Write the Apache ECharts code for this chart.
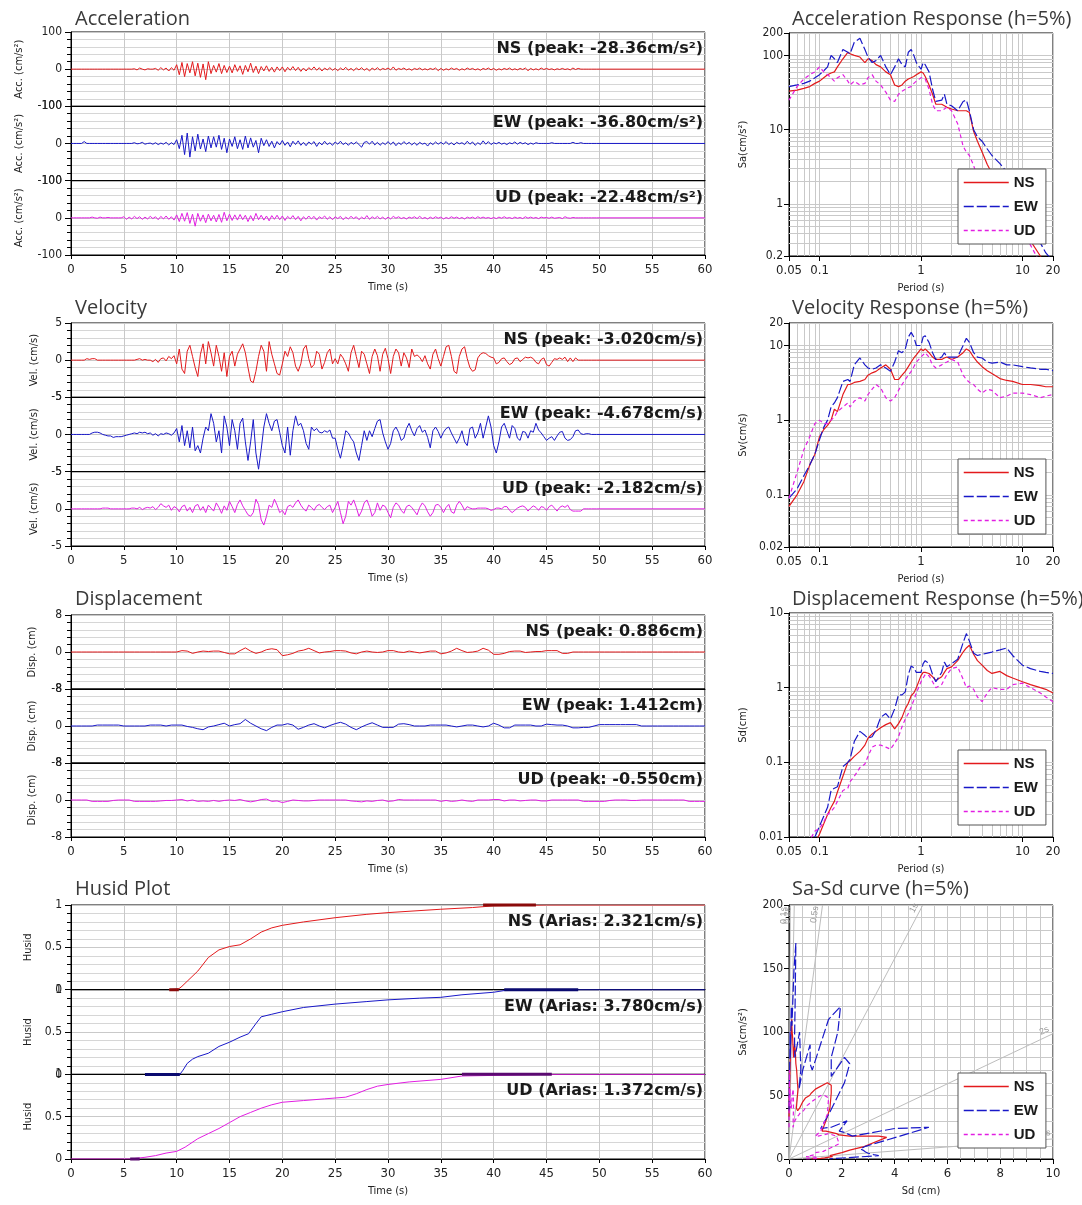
<!DOCTYPE html>
<html>
<head>
<meta charset="utf-8">
<script src="https://cdn.jsdelivr.net/npm/echarts@6/dist/echarts.min.js"></script>
<style>
  html, body { margin: 0; padding: 0; background: #fff; }
  #main { width: 1082px; height: 1205px; }
</style>
</head>
<body>
<div id="main"></div>
<script>
// ---- time histories (sample steps in seconds) ----
const ACC_DT = 0.25;
const VEL_DT = 0.25;
const DISP_DT = 0.5;

const accNS = [
  0,0,0,0,0,0,0,0,0,0,0,0,0,0,0,0,0,0,0,0,
  0,0,0,0,1,-2,3,0,-2,1,0,0,2,-3,4,-2,3,-5,4,-3,
  12,-15,18,-20,15,-10,20,-18,16,-22,14,-28.36,20,-12,10,-8,15,-12,10,-9,
  8,-10,12,-6,9,-14,10,-7,16,-9,8,-12,7,-5,9,-6,5,-8,6,-4,
  6,-7,5,-3,7,-4,5,-6,3,-5,4,-2,6,-3,4,-5,3,-2,4,-3,
  2,-4,3,-2,5,-3,2,-4,3,-2,4,-3,2,-5,3,-2,4,-3,2,-1,
  3,-2,6,-3,2,-1,3,-2,1,-3,2,-1,3,-2,1,-2,2,-1,3,-4,
  2,-3,1,-2,3,-1,2,-3,1,-2,3,-1,2,-2,1,-3,2,-1,3,-2,
  2,-3,1,-2,2,-1,3,-2,1,-2,2,-1,3,-4,2,-2,1,-2,3,-1,
  2,-1,1,-2,1,-1,2,-1,1,-2,3,-1,2,0,0,0,0,0,0,0
];
const accEW = [
  0,0,0,0,0,5,0,0,0,0,0,0,0,0,0,0,0,0,0,0,
  0,0,0,0,2,-1,0,3,-2,0,1,-2,2,-3,1,-2,3,-4,2,-3,
  10,-14,22,-30,28,-36.8,18,-20,25,-15,12,-22,20,-12,18,-10,22,-16,14,-25,
  12,-8,18,-14,10,-16,20,-12,15,-10,8,-25,14,-6,10,-8,6,-12,5,-4,
  8,-5,4,-9,6,-3,7,-5,3,-6,4,-2,5,-8,3,-4,6,-3,2,-5,
  4,-2,6,-3,2,-5,3,-2,4,-3,-10,3,5,-2,6,-4,3,-5,2,-3,
  5,-3,4,-6,2,-3,5,-2,3,-4,2,-5,3,-2,1,-7,2,-3,4,-2,
  3,-2,5,-3,2,-4,3,-1,2,-3,6,-2,4,-5,2,-3,7,-2,5,-3,
  2,-1,3,-2,1,-3,2,-1,4,-2,3,-1,2,-3,1,-2,2,0,0,0,
  0,0,2,0,0,0,0,0,0,0,3,0,0,2,0,0,0,0,0,0
];
const accUD = [
  0,0,0,0,0,0,0,0,2,0,-1,2,0,0,1,0,0,0,0,0,
  3,-4,2,-3,4,-2,3,-4,2,-3,4,-2,3,-5,4,-3,5,-4,3,-6,
  8,-10,12,-9,14,-15,10,-22.48,12,-9,8,-13,10,-8,7,-11,9,-12,15,-8,
  10,-7,8,-6,9,-5,7,-10,6,-8,12,-5,7,-6,5,-8,6,-4,7,-5,
  5,-7,4,-3,6,-5,4,-8,3,-4,5,-3,4,-6,3,-2,5,-4,3,-5,
  3,-2,4,-5,2,-3,4,-2,3,-5,2,-3,6,-4,3,-2,4,-3,2,-4,
  2,-3,4,-1,3,-2,1,-3,2,-1,3,-2,4,-2,1,-3,2,-2,3,-1,
  2,-3,1,-2,3,-1,2,-2,1,-3,2,-1,2,-2,3,-1,2,-1,1,-2,
  1,-2,2,-1,3,-1,1,-2,2,-1,1,-2,3,-1,2,-1,1,-2,2,0,
  1,-1,2,-1,0,1,-2,3,0,-1,1,0,0,0,0,0,0,0,0,0
];

const velNS = [
  0,0,0,0,0,0,0.2,0.1,0.2,0.2,0,0,0,0,0,0,0,0,0,0,
  0,0,0,0,0,0.1,0.2,0,0.1,0,0,-0.2,0.1,-0.3,0.2,0.3,-0.1,0.5,0.2,0.6,
  -0.5,1.5,-1.2,-1.8,1.2,2.0,0.5,-1.0,-2.2,0.8,2.2,-0.5,2.5,1.0,-0.8,2.0,0.5,-1.5,1.0,-2.2,
  0.5,1.2,-0.8,0.8,1.5,2.2,1.0,-1.0,-2.8,-3.02,-1.5,0.5,2.0,1.2,-1.5,2.5,0.8,-0.5,-1.8,-2.0,
  -0.5,1.2,0.5,1.8,1.0,-0.8,-1.5,-0.5,1.5,2.0,0.2,-1.0,-0.6,1.2,0.8,-1.2,-0.3,1.0,1.5,-0.5,
  0.2,-0.5,0.8,0.3,-0.5,-1.5,1.0,2.0,0.5,-1.0,1.2,0.8,-0.5,-1.8,0.5,1.5,0.6,-1.5,0.8,1.6,
  0.2,-1.8,0.5,1.5,1.0,-0.8,1.0,0.3,-1.0,1.5,0.5,0.7,0.4,-0.2,0.6,-0.5,-1.2,0.8,1.5,0.2,
  -0.8,0.5,1.8,2.0,0.5,-1.5,-1.8,0.5,1.5,1.8,0.2,-1.0,-1.5,-1.3,0.3,0.8,1.0,0.9,0.6,0.4,
  0.3,-0.5,-0.3,0.2,0.3,-0.2,-0.6,-0.4,0.2,0.3,-0.2,0.1,0.4,0.3,0.4,0.2,-0.3,-0.5,0.1,0.3,
  -0.6,-0.8,-0.3,0.2,0.1,0.3,0.1,0.4,-0.2,0.3,-0.2,0.3,0,0,0,0,0,0,0,0
];
const velEW = [
  0,0,0,0,0,0,0,0,0.2,0.3,0.3,0.2,0,-0.1,-0.2,-0.2,-0.4,-0.3,-0.3,-0.3,
  -0.2,-0.1,0,0.1,0.2,0.1,0.3,0.2,0.3,0.1,0.2,-0.1,0.1,-0.2,0.1,0,0.2,0.1,-0.1,0.2,
  0.8,-1.0,1.2,-1.5,0.5,-1.8,1.0,-2.2,-1.5,-2.5,-0.5,1.0,0.5,2.8,1.5,-1.0,0.5,-2.5,2.5,1.0,
  -1.5,2.0,0.5,-2.0,1.5,2.2,-1.0,-3.5,-1.0,2.0,-2.5,-4.678,-2.0,1.0,2.8,1.5,0.5,1.8,2.0,0.3,
  -1.5,-2.5,1.0,-2.8,0.5,2.5,1.2,1.5,0.5,-1.2,-2.0,1.0,0.5,0.8,0.3,0.2,0.5,0.3,0.6,-0.5,
  -0.5,-2.0,-3.2,-1.5,0.5,0.2,-0.5,-1.0,-2.5,-3.5,-1.5,0.5,-0.8,0.5,-0.3,0.8,1.8,2.0,0.2,-1.0,
  -2.0,-1.2,0.5,1.0,0.3,-0.8,-0.5,0.8,1.5,0.5,-0.2,0.8,1.2,0.3,0.6,-0.4,-1.8,0.5,1.0,0.4,
  -0.5,0.3,0.8,1.0,0.2,-0.5,-1.2,-0.5,0.5,-1.0,-1.5,0.8,1.0,-0.5,0.2,1.5,-0.5,1.0,2.5,1.0,
  -1.5,-2.5,-1.0,1.0,1.5,0.5,-0.5,1.2,0.8,-0.5,-0.8,0.4,0.3,-0.5,0.5,0.3,1.5,0.6,0.2,-0.3,
  -0.8,-0.5,-0.3,-0.8,-0.2,0.3,0.4,-0.5,-0.8,-0.7,-0.3,0.5,0.6,0.1,0,0.1,0.1,0,0,0
];
const velUD = [
  0,0,0,0,0,0,0,0,0,0,0,0,0.1,0.1,0.1,0,0,0,0,0,
  0,0,0,0.1,0.1,0,0.2,-0.1,0.1,0.2,0.1,0.3,-0.1,0.2,0.7,0.4,0.2,0.5,-0.2,0.3,
  0.1,-0.4,0.3,0.5,-0.3,0.2,-0.5,0.4,0.6,-0.2,0.3,-0.5,0.5,0.1,-0.3,0.8,0.2,-0.6,0.4,-0.2,
  1.0,0.3,-0.5,0.6,1.2,0.4,-0.2,-0.8,-1.0,-0.5,1.3,0.6,-1.5,-2.182,-1.0,0.5,0.2,1.3,0.5,-0.5,
  -0.2,-0.8,0.3,0.5,0.2,0.8,1.2,0.5,0,-0.3,0.5,0.2,-0.2,0.4,0.6,0.2,-0.1,0.3,0.5,-0.5,
  0.2,1.0,-0.5,-2.0,-1.0,1.0,0.5,1.2,0.2,-1.0,-0.3,0.8,1.2,0.3,-1.0,-0.5,0.8,-0.2,0.5,0.3,
  -0.5,-1.2,0.2,0.8,0.5,-0.2,-0.6,0.3,0.5,0.2,-0.3,-0.8,0.2,0.8,0.4,-0.4,-1.0,-0.5,0.5,0.6,
  0.2,-0.5,0.2,0.6,-0.4,-0.6,0.5,1.0,0.5,-0.2,0.3,0.1,0,0,0.1,0.1,0.1,0.1,0,-0.2,
  -0.1,0.1,0.1,0,0.3,0.3,-0.2,-0.5,-0.2,0.1,0.3,0.4,0.2,-0.3,0.1,0.4,0.2,-0.2,0.3,0.2,
  -0.2,0.3,0.5,0.1,-0.3,0.2,0.4,0.2,0.5,-0.1,-0.3,-0.3,-0.3,-0.3,0,0,0,0,0,0
];

const dispNS = [
  0,0,0,0,0,0,0,0,0,0,
  0,0,0,0,0,0,0,0,0,0,
  0,0.3,0.2,-0.3,0,0.2,0.1,0.2,0.2,-0.1,
  -0.4,-0.4,0.3,0.886,0.2,-0.3,0,0.5,0.7,0.5,
  -0.8,-0.6,-0.3,0.2,0.4,0.8,0.3,-0.2,0,0.1,
  0.3,0.3,0.2,-0.2,-0.4,0,0.2,0,-0.1,0,
  0.3,0.3,0,-0.1,0.2,0,-0.2,0,0.2,0.2,
  -0.4,-0.2,0.2,0.8,0.3,-0.1,0,0.2,0.8,0.4,
  -0.5,-0.5,-0.3,0.1,0.2,0.2,-0.1,0,0.1,0.1,
  0.3,0.3,0.3,-0.3,-0.3,0,0,0,0,0,
  0,0,0,0,0,0,0,0,0,0,
  0,0,0,0,0,0,0,0,0,0,0
];
const dispEW = [
  0,0,0,0,0,0.2,0.2,0.2,0.2,0.2,
  0,0,0,0,0,0.2,0.2,0.2,0,0.2,
  0.2,0.2,-0.1,-0.3,-0.6,-0.8,-0.2,0,0.3,0.6,
  0,0.3,0.5,1.412,0.6,0,-0.6,-1.0,-0.3,0.2,
  0.2,0.5,0.2,-0.7,-0.3,0.2,0.5,0,-0.4,0.1,
  0.5,0.8,0.4,-0.3,-0.8,-0.2,0.3,0.7,0.2,-0.3,
  -0.3,-0.3,0.4,0.5,0.3,0,0,0,0.2,0.2,
  0.2,0.2,0,-0.2,0,0.2,0.2,0,-0.2,0,
  0.6,0.2,-0.4,-0.4,0.2,0.2,0.2,0.2,0,0,
  0.4,0.3,0.2,0.2,0,-0.4,-0.4,-0.3,-0.3,0,
  0.3,0.3,0.3,0.3,0.3,0.3,0.3,0.3,0,0,
  0,0,0,0,0,0,0,0,0,0,0
];
const dispUD = [
  0,0,0,0,-0.3,-0.3,-0.3,-0.3,-0.1,0,
  0,0,-0.3,-0.3,-0.3,-0.3,-0.3,-0.2,-0.1,-0.1,
  0,0.1,-0.2,0,-0.3,-0.2,-0.3,-0.1,-0.3,-0.1,
  0,-0.1,0.1,-0.2,-0.4,-0.2,0.1,0.2,-0.3,-0.2,
  -0.55,-0.3,0,-0.1,-0.2,-0.2,-0.1,0,0,0,
  0,0,0,-0.2,-0.3,-0.4,-0.2,-0.3,-0.1,0,
  -0.3,-0.2,0.1,0,0,0,0,0,0,0,
  -0.3,-0.1,-0.3,-0.2,0,-0.2,-0.3,0,0,0,
  0.1,0.1,-0.2,0,0,-0.2,-0.1,0,0,-0.2,
  -0.2,0,0,0,0,0,0,-0.3,-0.3,-0.3,
  -0.3,-0.3,-0.1,0,0,0,-0.1,-0.1,0,0,
  0,0,0,0,0,0,0,-0.3,-0.3,-0.3,-0.3
];

// Husid (normalised Arias intensity) as [time, value]
const husidNS = [[9.3,0],[10.2,0.01],[10.5,0.04],[11,0.1],[12,0.22],[13,0.38],[14,0.47],[15,0.51],[16,0.53],[17,0.6],[18,0.68],[19,0.73],[20,0.76],[22,0.8],[25,0.85],[28,0.89],[30,0.91],[35,0.95],[38,0.97],[40,0.99],[45,1],[60,1]];
const husidEW = [[7,0],[10.3,0],[10.6,0.05],[11,0.13],[11.5,0.18],[12,0.21],[13,0.25],[14,0.33],[15,0.38],[16,0.44],[16.8,0.48],[17.5,0.6],[18,0.68],[19,0.71],[20,0.74],[22,0.79],[25,0.83],[28,0.86],[30,0.88],[33,0.9],[35,0.91],[37,0.94],[40,0.97],[41,0.99],[48,1],[60,1]];
const husidUD = [[0,0],[5.6,0],[7,0.02],[8,0.04],[9,0.07],[10,0.09],[10.8,0.14],[12,0.24],[13,0.3],[14,0.36],[15,0.43],[16,0.5],[17,0.55],[18,0.6],[19,0.64],[20,0.67],[22,0.69],[24,0.71],[26,0.73],[27,0.77],[28,0.82],[29,0.86],[30,0.88],[32,0.91],[35,0.94],[37,0.98],[45.5,1],[60,1]];
const husidStart = [[9.3,10.2],[7,10.3],[5.6,6.5]];
const husidEnd = [[39,44],[41,48],[37,45.5]];

// ---- response spectra (h=5%) ----
const periods = [0.05,0.06,0.07,0.08,0.09,0.1,0.11,0.12,0.13,0.14,0.15,0.17,0.19,0.2,0.22,0.25,0.28,0.3,0.33,0.36,
  0.4,0.45,0.5,0.55,0.6,0.65,0.7,0.75,0.8,0.85,0.9,1.0,1.05,1.1,1.2,1.3,1.4,1.6,1.7,1.8,
  2.0,2.3,2.6,2.8,3.0,3.3,3.6,4,4.5,5,6,7,8,10,12,15,17,20];

const saNS = [33,34,36,38,42, 45,50,55,58,60, 70,90,110,105,100, 95,80,90,85,75, 70,60,55,40,38,
  40,45,48,50,52, 55,60,58,52,40, 30,22,22,21,20, 19,18,18,18,17, 9.5,7,5,3.4,2.6, 1.9,1.3,0.9,0.5,0.32, 0.2,0.15,0.1];
const saEW = [38,40,42,45,50, 55,62,70,100,90, 80,120,110,105,150, 170,120,95,80,85, 100,70,55,70,90,
  75,70,110,120,100, 80,65,80,75,60, 35,24,25,30,22, 21,18,24,25,18, 10,8,7,5.5,4.5, 3.5,2.7,1.7,0.8,0.5, 0.3,0.22,0.17];
const saUD = [25,38,48,55,60, 70,60,55,50,45, 50,55,45,40,45, 40,42,50,55,45, 40,32,25,24,30,
  33,35,37,38,42, 45,50,50,48,35, 22,18,18,19,20, 18,12,6,5,4.5, 3.3,2.3,1.8,1.6,1.5, 1.1,0.8,0.6,0.45,0.28, 0.16,0.1,0.065];

const svNS = [0.07,0.1,0.15,0.25,0.35, 0.6,0.75,0.85,1.0,1.4, 1.3,2.2,3.0,3.0,3.2, 3.3,3.5,4.0,4.3,4.5, 5.0,5.5,4.8,3.5,3.5,
  4.0,4.5,5.2,6.0,6.8, 7.5,9.0,8.5,9.0,8.0, 7.0,6.5,6.5,6.8,7.0, 6.5,7.0,8.0,9.0,8.5, 7.0,6.0,5.2,4.6,4.2, 3.6,3.4,3.3,3.0,3.0, 2.9,2.8,2.8];
const svEW = [0.09,0.12,0.18,0.25,0.35, 0.55,0.8,1.0,1.5,1.7, 2.0,3.3,3.5,3.3,5.5, 6.8,5.5,5.0,4.8,5.0, 5.5,5.0,4.5,6.0,8.5,
  8.0,9.0,13,15,13, 10,10,13,13.5,11, 8.0,6.5,7.0,8.0,7.0, 7.0,7.0,10,12.5,11, 8.0,7.0,6.8,6.0,5.8, 6.0,5.5,5.5,5.2,5.0, 4.8,4.8,4.6];
const svUD = [0.09,0.2,0.4,0.6,0.9, 1.0,0.9,0.9,1.0,1.1, 1.3,1.5,1.7,1.5,1.8, 2.0,1.8,2.2,2.6,3.0, 2.7,2.0,1.8,2.0,2.5,
  3.0,3.5,4.0,4.5,5.2, 6.0,7.0,7.5,8.0,7.0, 5.5,5.0,5.5,5.8,6.0, 6.5,6.0,4.0,3.5,3.2, 3.0,2.6,2.3,2.6,2.5, 2.0,2.1,2.3,2.3,2.2, 2.0,2.1,2.2];

const sdNS = [0.002,0.003,0.0045,0.006,0.008, 0.011,0.015,0.02,0.025,0.03, 0.04,0.065,0.1,0.105,0.12, 0.14,0.17,0.21,0.24,0.26,
  0.29,0.32,0.34,0.28,0.33, 0.4,0.52,0.62,0.78,0.85, 1.0,1.45,1.6,1.6,1.55, 1.4,1.25,1.4,1.6,1.8, 1.9,2.3,3.0,3.4,3.7,
  2.8,2.3,2.0,1.7,1.55, 1.65,1.45,1.35,1.2,1.1, 1.0,0.95,0.85];
const sdEW = [0.0025,0.0035,0.005,0.007,0.01, 0.014,0.019,0.025,0.042,0.045, 0.047,0.088,0.1,0.11,0.19, 0.26,0.23,0.21,0.22,0.27,
  0.4,0.45,0.38,0.52,0.8, 0.8,0.88,1.5,1.95,1.85, 1.6,1.6,2.1,2.3,2.1, 1.5,1.2,1.6,2.2,1.9, 2.1,2.4,4.0,5.3,4.2,
  2.9,2.7,2.8,2.9,3.0, 3.2,3.4,2.7,2.0,1.8, 1.65,1.6,1.55];
const sdUD = [0.0016,0.0035,0.006,0.009,0.012, 0.013,0.016,0.02,0.022,0.025, 0.03,0.042,0.045,0.055,0.065, 0.085,0.095,0.12,0.16,0.17,
  0.17,0.16,0.15,0.18,0.22, 0.3,0.38,0.45,0.55,0.68, 0.85,1.2,1.35,1.5,1.45, 1.2,1.0,1.1,1.3,1.5, 1.8,1.9,1.3,1.0,1.05,
  0.95,0.75,0.65,0.85,1.0, 0.95,0.95,1.1,1.15,1.0, 0.85,0.75,0.65];

// constant-period guide lines on the Sa-Sd plot, end points as [Sd, Sa]
const periodLineNames = ['0.1s','0.2s','0.5s','1s','2s','5s'];
const periodLineEnds = [[0.05,200],[0.2,200],[1.27,200],[5.07,200],[10,98.7],[10,15.8]];

const peakLabels = {
  acc: ['NS (peak: -28.36cm/s²)', 'EW (peak: -36.80cm/s²)', 'UD (peak: -22.48cm/s²)'],
  vel: ['NS (peak: -3.020cm/s)', 'EW (peak: -4.678cm/s)', 'UD (peak: -2.182cm/s)'],
  disp: ['NS (peak: 0.886cm)', 'EW (peak: 1.412cm)', 'UD (peak: -0.550cm)'],
  husid: ['NS (Arias: 2.321cm/s)', 'EW (Arias: 3.780cm/s)', 'UD (Arias: 1.372cm/s)']
};

// ---- styling ----
const COLORS = ['#e31a1c', '#1818c8', '#e21ee2'];
const DARK = ['#8a0a0a', '#0a0a70', '#5a0a70'];
const COMP = ['NS', 'EW', 'UD'];
const DASH = ['solid', [10, 3], [4, 3]];
const LABEL_FONT = "'Liberation Sans Narrow','DejaVu Sans Condensed',sans-serif";
const NAME_FONT = "'DejaVu Sans Condensed','DejaVu Sans',sans-serif";
const GRIDLINE = '#c9c9c9';

const grids = [], xAxes = [], yAxes = [], series = [], legends = [], graphics = [];

function toXY(vals, dt) {
  const pts = vals.map((v, i) => [+(i * dt).toFixed(2), v]);
  if (pts[pts.length - 1][0] < 60) pts.push([60, 0]);
  return pts;
}

function addTitle(text, x, y) {
  graphics.push({
    type: 'text', x, y, z: 100,
    style: { text, font: "20px 'Open Sans', 'Noto Sans', sans-serif", fill: '#3a3a3a', verticalAlign: 'middle' }
  });
}

function addTimePanel(p) {
  p.tops.forEach((top, k) => {
    const g = grids.length;
    const last = k === 2;
    grids.push({ left: 71, width: 634, top, height: p.h, show: true, borderColor: '#000', borderWidth: 1 });
    xAxes.push({
      gridIndex: g, type: 'value', min: 0, max: 60, interval: 5,
      axisLine: { show: true, onZero: false, lineStyle: { color: '#000' } },
      axisTick: { show: last, length: 4, lineStyle: { color: '#000' } },
      axisLabel: { show: last, fontSize: 13, color: '#222', margin: 8, fontFamily: LABEL_FONT },
      splitLine: { show: true, lineStyle: { color: GRIDLINE } },
      name: last ? 'Time (s)' : '', nameLocation: 'middle', nameGap: 27,
      nameTextStyle: { fontSize: 11, color: '#222', fontFamily: NAME_FONT }
    });
    yAxes.push({
      gridIndex: g, type: 'value', min: p.min, max: p.max, interval: p.interval,
      name: p.name, nameLocation: 'middle', nameGap: p.nameGap,
      nameTextStyle: { fontSize: 11, color: '#222', fontFamily: NAME_FONT },
      axisLine: { show: true, lineStyle: { color: '#000' } },
      axisTick: { show: true, length: 6, lineStyle: { color: '#000' } },
      minorTick: { show: true, splitNumber: 5, length: 4, lineStyle: { color: '#000' } },
      axisLabel: { showMinLabel: true, showMaxLabel: true, fontSize: 12, color: '#222', margin: 9, fontFamily: LABEL_FONT },
      splitLine: { show: true, lineStyle: { color: GRIDLINE } },
      minorSplitLine: { show: true, lineStyle: { color: '#d6d6d6' } }
    });
    series.push({
      type: 'line', name: p.key + COMP[k], xAxisIndex: g, yAxisIndex: g,
      data: p.data[k], symbol: 'none', animation: false, z: 3,
      lineStyle: { width: 1, color: COLORS[k] }
    });
    graphics.push({
      type: 'text', x: 703, y: top + 17, z: 100,
      style: { text: p.labels[k], align: 'right', verticalAlign: 'middle',
        font: "bold 16px 'DejaVu Sans', sans-serif", fill: '#1a1a1a' }
    });
  });
}

function logMinors(lo, hi) {
  const out = [];
  for (let e = Math.floor(Math.log10(lo)); e <= Math.ceil(Math.log10(hi)); e++) {
    for (let m = 2; m <= 9; m++) {
      const v = +(m * Math.pow(10, e)).toPrecision(3);
      if (v > lo && v < hi) out.push(v);
    }
  }
  return out;
}

function rightAxes(g, p) {
  const logAxis = p.log;
  xAxes.push({
    gridIndex: g, type: logAxis ? 'log' : 'value', logBase: 10, min: p.xMin, max: p.xMax,
    interval: logAxis ? undefined : p.xInterval,
    axisLine: { show: true, onZero: false, lineStyle: { color: '#000' } },
    axisTick: { show: true, length: 5, lineStyle: { color: '#000' } },
    minorTick: { show: !logAxis, splitNumber: 4, length: 3, lineStyle: { color: '#000' } },
    axisLabel: { fontSize: 13, color: '#222', margin: 8, fontFamily: LABEL_FONT, showMinLabel: true, showMaxLabel: true,
      formatter: v => String(+(+v).toPrecision(3)) },
    splitLine: { show: true, lineStyle: { color: GRIDLINE } },
    minorSplitLine: { show: !logAxis, lineStyle: { color: GRIDLINE } },
    name: p.xName, nameLocation: 'middle', nameGap: 27,
    nameTextStyle: { fontSize: 11, color: '#222', fontFamily: NAME_FONT }
  });
  yAxes.push({
    gridIndex: g, type: logAxis ? 'log' : 'value', logBase: 10, min: p.yMin, max: p.yMax,
    interval: logAxis ? undefined : p.yInterval,
    name: p.yName, nameLocation: 'middle', nameGap: p.nameGap,
    nameTextStyle: { fontSize: 11, color: '#222', fontFamily: NAME_FONT },
    axisLine: { show: true, lineStyle: { color: '#000' } },
    axisTick: { show: true, length: 5, lineStyle: { color: '#000' } },
    minorTick: { show: !logAxis, splitNumber: 5, length: 3, lineStyle: { color: '#000' } },
    axisLabel: { fontSize: 12, color: '#222', margin: 6, fontFamily: LABEL_FONT, showMinLabel: true, showMaxLabel: true,
      formatter: v => String(+(+v).toPrecision(3)) },
    splitLine: { show: true, lineStyle: { color: GRIDLINE } },
    minorSplitLine: { show: !logAxis, lineStyle: { color: GRIDLINE } }
  });
}

function addLegend(top) {
  legends.push({
    left: 958, top, orient: 'vertical', z: 50,
    backgroundColor: '#fff', borderColor: '#555', borderWidth: 1,
    padding: [6, 8, 6, 5], itemGap: 9, itemWidth: 45, itemHeight: 14,
    itemStyle: { opacity: 0 },
    lineStyle: { width: 1.5 },
    textStyle: { fontSize: 15, fontWeight: 'bold', color: '#1a1a1a', fontFamily: "'Liberation Sans', Arial, sans-serif" },
    data: COMP
  });
}

function addSpectrum(p) {
  const g = grids.length;
  grids.push({ left: 789, width: 264, top: p.top, height: p.h, show: true, borderColor: '#000', borderWidth: 1 });
  rightAxes(g, p);
  // minor log grid lines
  const lines = logMinors(p.xMin, p.xMax).map(v => ({ xAxis: v }))
    .concat(logMinors(p.yMin, p.yMax).map(v => ({ yAxis: v })));
  series.push({
    type: 'line', name: 'grid' + g, xAxisIndex: g, yAxisIndex: g, data: [], z: 1, silent: true,
    markLine: { silent: true, symbol: ['none', 'none'], animation: false, z: 1,
      label: { show: false }, lineStyle: { color: GRIDLINE, width: 1, type: 'solid' }, data: lines }
  });
  p.values.forEach((vals, k) => {
    series.push({
      type: 'line', name: COMP[k], xAxisIndex: g, yAxisIndex: g,
      data: periods.map((t, i) => [t, vals[i]]), symbol: 'none', animation: false, z: 3,
      lineStyle: { width: 1.2, color: COLORS[k], type: DASH[k] }, itemStyle: { color: COLORS[k] }
    });
  });
  addLegend(p.legendTop);
}

// ---- left column ----
addTitle('Acceleration', 75, 19);
addTimePanel({ key: 'acc', name: 'Acc. (cm/s²)', nameGap: 46, tops: [32, 106.3, 180.7], h: 74.3,
  min: -100, max: 100, interval: 100, labels: peakLabels.acc,
  data: [toXY(accNS, ACC_DT), toXY(accEW, ACC_DT), toXY(accUD, ACC_DT)] });

addTitle('Velocity', 75, 308);
addTimePanel({ key: 'vel', name: 'Vel. (cm/s)', nameGap: 31, tops: [323, 397.3, 471.7], h: 74.3,
  min: -5, max: 5, interval: 5, labels: peakLabels.vel,
  data: [toXY(velNS, VEL_DT), toXY(velEW, VEL_DT), toXY(velUD, VEL_DT)] });

addTitle('Displacement', 75, 599);
addTimePanel({ key: 'disp', name: 'Disp. (cm)', nameGap: 33, tops: [615, 689, 763], h: 74,
  min: -8, max: 8, interval: 8, labels: peakLabels.disp,
  data: [toXY(dispNS, DISP_DT), toXY(dispEW, DISP_DT), toXY(dispUD, DISP_DT)] });

addTitle('Husid Plot', 75, 889);
addTimePanel({ key: 'husid', name: 'Husid', nameGap: 36, tops: [905, 989.7, 1074.3], h: 84.7,
  min: 0, max: 1, interval: 0.5, labels: peakLabels.husid,
  data: [husidNS, husidEW, husidUD] });
// darker emphasis segments at the start and end of the Husid curves
[9, 10, 11].forEach((g, k) => {
  [[husidStart[k], 0], [husidEnd[k], 1]].forEach(([span, lvl]) => {
    series.push({
      type: 'line', name: 'husidBand' + k, xAxisIndex: g, yAxisIndex: g, clip: false,
      data: [[span[0], lvl], [span[1], lvl]], symbol: 'none', animation: false, z: 4,
      lineStyle: { width: 3, color: DARK[k] }
    });
  });
});

// ---- right column ----
addTitle('Acceleration Response (h=5%)', 792, 19);
addSpectrum({ top: 33, h: 223, log: true, xMin: 0.05, xMax: 20, yMin: 0.2, yMax: 200,
  xName: 'Period (s)', yName: 'Sa(cm/s²)', nameGap: 40, values: [saNS, saEW, saUD], legendTop: 169 });

addTitle('Velocity Response (h=5%)', 792, 308);
addSpectrum({ top: 323, h: 224, log: true, xMin: 0.05, xMax: 20, yMin: 0.02, yMax: 20,
  xName: 'Period (s)', yName: 'Sv(cm/s)', nameGap: 40, values: [svNS, svEW, svUD], legendTop: 459 });

addTitle('Displacement Response (h=5%)', 792, 599);
addSpectrum({ top: 613, h: 224, log: true, xMin: 0.05, xMax: 20, yMin: 0.01, yMax: 10,
  xName: 'Period (s)', yName: 'Sd(cm)', nameGap: 40, values: [sdNS, sdEW, sdUD], legendTop: 750 });

addTitle('Sa-Sd curve (h=5%)', 792, 889);
(function () {
  const g = grids.length;
  const p = { top: 905, h: 254, log: false, xMin: 0, xMax: 10, xInterval: 2, yMin: 0, yMax: 200, yInterval: 50,
    xName: 'Sd (cm)', yName: 'Sa(cm/s²)', nameGap: 40 };
  grids.push({ left: 789, width: 264, top: p.top, height: p.h, show: true, borderColor: '#000', borderWidth: 1 });
  rightAxes(g, p);
  series.push({
    type: 'line', name: 'periods', xAxisIndex: g, yAxisIndex: g, data: [], z: 1, silent: true,
    markLine: {
      silent: true, symbol: ['none', 'none'], animation: false, z: 1,
      lineStyle: { color: '#bdbdbd', width: 1, type: 'solid' },
      label: { show: true, position: 'insideEndTop', formatter: '{b}', fontSize: 9, color: '#9a9a9a', distance: 2 },
      data: periodLineEnds.map((e, i) => [{ coord: [0, 0], name: periodLineNames[i] }, { coord: e }])
    }
  });
  const sa = [saNS, saEW, saUD], sd = [sdNS, sdEW, sdUD];
  COMP.forEach((c, k) => {
    series.push({
      type: 'line', name: c, xAxisIndex: g, yAxisIndex: g,
      data: periods.map((t, i) => [sd[k][i], sa[k][i]]), symbol: 'none', animation: false, z: 3,
      lineStyle: { width: 1.2, color: COLORS[k], type: DASH[k] }, itemStyle: { color: COLORS[k] }
    });
  });
  addLegend(1073);
})();

const chart = echarts.init(document.getElementById('main'), null, { renderer: 'canvas' });
chart.setOption({
  animation: false,
  backgroundColor: '#fff',
  grid: grids,
  xAxis: xAxes,
  yAxis: yAxes,
  legend: legends,
  graphic: graphics,
  series
});
</script>
</body>
</html>
